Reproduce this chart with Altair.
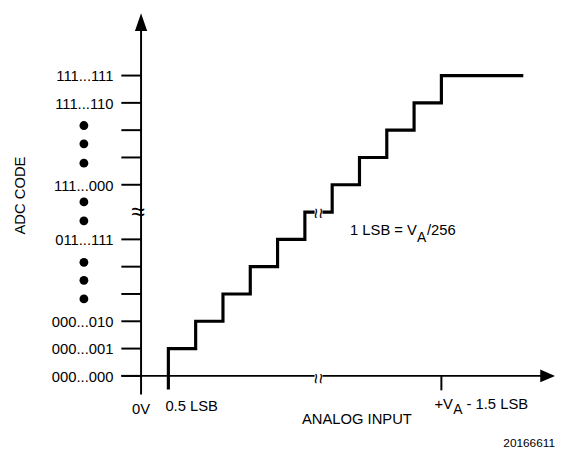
import altair as alt
import pandas as pd

# ---------------- values ----------------
code_steps  = [0, 1, 2, 5, 7, 10, 11]
code_labels = ["000...000", "000...001", "000...010", "011...111",
               "111...000", "111...110", "111...111"]
tick_steps  = [0, 1, 2, 3, 4, 5, 7, 8, 9, 10, 11]
stair_lsb   = [1, 1, 2, 2, 3, 3, 4, 4, 5, 5, 6, 6, 7, 7, 8, 8, 9, 9, 10, 10, 11, 11, 14]
stair_code  = [-0.5, 1, 1, 2, 2, 3, 3, 4, 4, 5, 5, 6, 6, 7, 7, 8, 8, 9, 9, 10, 10, 11, 11]
dot_codes   = [9.17, 8.5, 7.79, 6.37, 5.68, 4.16, 3.5, 2.82]
full_scale_lsb = 11
break_lsb  = 6.5
break_code = 6

# ---------------- layout ----------------
FONT = "Liberation Sans"
UNIT = 27.7
X0, Y0 = 143, 378
PAGE = 8
W, H = 557, 445


def u(px):
    return (px - X0) / UNIT


def v(py):
    return (Y0 - py) / UNIT


XS = alt.Scale(domain=[u(PAGE), u(PAGE + W)], nice=False, zero=False)
YS = alt.Scale(domain=[v(PAGE + H), v(PAGE)], nice=False, zero=False)
one = pd.DataFrame({"n": [0]})


def xd(val):
    return alt.XDatum(val, scale=XS, axis=None)


def yd(val):
    return alt.YDatum(val, scale=YS, axis=None)


def note(text, x, y, size=15, align="left", dx=0, dy=0, angle=0, baseline="alphabetic", weight="normal"):
    return alt.Chart(one).mark_text(
        text=text, align=align, baseline=baseline, dx=dx, dy=dy, angle=angle,
        fontSize=size, font=FONT, color="black", fontWeight=weight
    ).encode(x=xd(x), y=yd(y))


stair_df = pd.DataFrame({"lsb": stair_lsb, "code": stair_code, "i": list(range(len(stair_lsb)))})
ticks_df = pd.DataFrame({"code": tick_steps})
labels_df = pd.DataFrame({"code": code_steps, "label": code_labels})
dots_df = pd.DataFrame({"code": dot_codes})

# axes
y_axis = alt.Chart(one).mark_rule(color="black", strokeWidth=2).encode(
    x=xd(0), y=yd(v(397)), y2=alt.Y2Datum(v(28)))
x_axis = alt.Chart(one).mark_rule(color="black", strokeWidth=2).encode(
    y=yd(0), x=xd(u(123)), x2=alt.X2Datum(u(549)))
y_arrow = alt.Chart(one).mark_point(
    shape="M0,-1L0.69,1L-0.69,1Z", size=324, filled=True, color="black", opacity=1, strokeWidth=0
).encode(x=xd(0), y=yd(v(19)))
x_arrow = alt.Chart(one).mark_point(
    shape="M1,0L-1,-0.85L-1,0.85Z", size=225, filled=True, color="black", opacity=1, strokeWidth=0
).encode(x=xd(u(555.5)), y=yd(0))

y_ticks = alt.Chart(ticks_df).mark_rule(color="black", strokeWidth=2).encode(
    x=xd(u(123)), x2=alt.X2Datum(0), y=alt.Y("code:Q", scale=YS, axis=None))
x_tick = alt.Chart(one).mark_rule(color="black", strokeWidth=2).encode(
    x=xd(full_scale_lsb), y=yd(-0.53), y2=alt.Y2Datum(0))

y_labels = alt.Chart(labels_df).mark_text(
    align="right", baseline="alphabetic", dx=-8, dy=6, fontSize=15, font=FONT, color="black"
).encode(x=xd(u(123)), y=alt.Y("code:Q", scale=YS, axis=None), text="label:N")

dots = alt.Chart(dots_df).mark_circle(size=80, color="black", opacity=1).encode(
    x=xd(u(85)), y=alt.Y("code:Q", scale=YS, axis=None))

stair = alt.Chart(stair_df).mark_line(
    color="black", strokeWidth=3.2, strokeJoin="miter", strokeCap="butt"
).encode(
    x=alt.X("lsb:Q", scale=XS, axis=None),
    y=alt.Y("code:Q", scale=YS, axis=None),
    order="i:Q",
)

masks = alt.Chart(pd.DataFrame({"lsb": [break_lsb, break_lsb], "code": [break_code, 0]})).mark_point(
    shape="square", size=64, filled=True, color="white", opacity=1, strokeWidth=0
).encode(x=alt.X("lsb:Q", scale=XS, axis=None), y=alt.Y("code:Q", scale=YS, axis=None))

gap = 2.8 / UNIT
squiggles = []
for yy in (break_code - 1.5 / UNIT, -3 / UNIT):
    for xx in (break_lsb - gap, break_lsb + gap):
        squiggles.append(note("~", xx, yy, size=19, align="center", baseline="middle", angle=90))

y_break = note("≈", u(140), break_code, size=25, align="center", baseline="middle")

texts = [
    note("ADC CODE", u(25), v(195), align="center", angle=270),
    note("0V", 0, 0, align="center", dy=39),
    note("0.5 LSB", 1, 0, align="left", dx=-3, dy=35.5),
    note("ANALOG INPUT", u(362), 0, align="center", dy=49),
    note("+V", full_scale_lsb, 0, align="left", dx=-7, dy=33.5),
    note("A", full_scale_lsb, 0, size=14, align="left", dx=12, dy=39),
    note("- 1.5 LSB", full_scale_lsb, 0, align="left", dx=25.5, dy=33.5),
    note("1 LSB = V", u(355), v(235), align="left"),
    note("A", u(355), v(235), size=14, align="left", dx=68, dy=7),
    note("/256", u(355), v(235), align="left", dx=78),
    note("20166611", u(563), v(450), size=12, align="right"),
]

chart = alt.layer(
    y_axis, x_axis, y_arrow, x_arrow, y_ticks, x_tick, y_labels, dots, stair,
    masks, *squiggles, y_break, *texts
).properties(
    width=W, height=H, padding=0, autosize="none", background="white"
).configure_view(stroke=None)

chart.save("out.html", embed_options={"renderer": "svg", "actions": False})
